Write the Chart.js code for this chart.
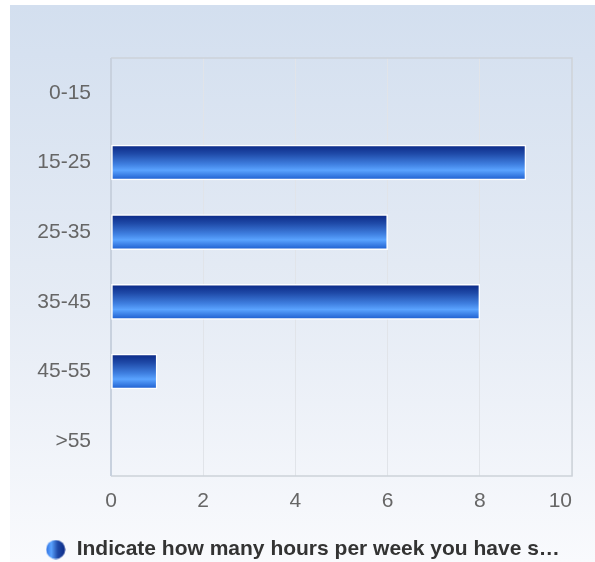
<!DOCTYPE html>
<html>
<head>
<meta charset="utf-8">
<script src="https://cdn.jsdelivr.net/npm/chart.js@4"></script>
<style>
  html, body { margin: 0; padding: 0; background: #ffffff; }
  #wrap { position: relative; width: 595px; height: 562px; }
  #bg {
    position: absolute; left: 10px; top: 5px; right: 0; bottom: 0;
    background: linear-gradient(to bottom, #d3dfef 0%, #e6ecf5 55%, #f9fafd 100%);
  }
  #hoursChart { position: absolute; left: 0; top: 0; }
</style>
</head>
<body>
<div id="wrap">
  <div id="bg"></div>
  <canvas id="hoursChart" width="595" height="562"></canvas>
</div>
<script>
const categories = ['0-15', '15-25', '25-35', '35-45', '45-55', '>55'];
const hours = [0, 9, 6, 8, 1, 0];
const seriesLabel = 'Indicate how many hours per week you have s\u2026';

const FONT = '"Liberation Sans", Arial, sans-serif';
const TICK_FONT = { family: FONT, size: 21 };
const TICK_COLOR = '#666666';
const X_PAD = 13;
const BAR_PX = 35;

// glossy blue fill, dark on top, light band near the bottom
function barFill(ctx) {
  const chart = ctx.chart;
  const yScale = chart.scales.y;
  if (ctx.type === 'data' && !ctx.raw) return 'rgba(0,0,0,0)';
  if (!chart.chartArea || !yScale || ctx.type !== 'data') return '#2a5fd0';
  const yc = yScale.getPixelForValue(ctx.dataIndex);
  if (!Number.isFinite(yc)) return '#2a5fd0';
  const g = chart.ctx.createLinearGradient(0, yc - BAR_PX / 2, 0, yc + BAR_PX / 2);
  g.addColorStop(0, '#0a2784');
  g.addColorStop(0.25, '#1f4aa8');
  g.addColorStop(0.55, '#3f7fe0');
  g.addColorStop(0.72, '#5aa3ff');
  g.addColorStop(1, '#1b5bcc');
  return g;
}

// round legend marker with the same gradient turned sideways
function legendDot() {
  const c = document.createElement('canvas');
  c.width = 20; c.height = 20;
  const x = c.getContext('2d');
  const g = x.createLinearGradient(0, 0, 20, 0);
  g.addColorStop(0, '#2f6fe0');
  g.addColorStop(0.28, '#5aa3ff');
  g.addColorStop(0.6, '#1f4aa8');
  g.addColorStop(1, '#0a2784');
  x.fillStyle = g;
  x.beginPath();
  x.arc(10, 10, 9.5, 0, Math.PI * 2);
  x.fill();
  return c;
}

const frame = {
  id: 'frame',
  beforeDatasetsDraw(chart) {
    const { ctx, chartArea: a } = chart;
    ctx.save();
    ctx.lineWidth = 1.5;
    ctx.strokeStyle = '#cdd2d9';
    ctx.beginPath();
    ctx.moveTo(a.left, a.top);
    ctx.lineTo(a.right, a.top);
    ctx.lineTo(a.right, a.bottom);
    ctx.lineTo(a.left, a.bottom);
    ctx.stroke();
    ctx.strokeStyle = '#c8d1de';
    ctx.lineWidth = 2;
    ctx.beginPath();
    ctx.moveTo(a.left, a.top);
    ctx.lineTo(a.left, a.bottom);
    ctx.stroke();
    ctx.restore();
  },
  // last x label sits flush with the right edge of the plot
  afterDraw(chart) {
    const s = chart.scales.x;
    const last = s.ticks[s.ticks.length - 1];
    const ctx = chart.ctx;
    ctx.save();
    ctx.font = `${TICK_FONT.size}px ${TICK_FONT.family}`;
    ctx.fillStyle = TICK_COLOR;
    ctx.textAlign = 'right';
    ctx.textBaseline = 'middle';
    ctx.fillText(String(last.value), s.getPixelForValue(last.value), s.top + X_PAD + TICK_FONT.size * 0.6);
    ctx.restore();
  }
};

new Chart(document.getElementById('hoursChart'), {
  type: 'bar',
  data: {
    labels: categories,
    datasets: [{
      label: seriesLabel,
      data: hours,
      backgroundColor: barFill,
      borderColor: '#ffffff',
      borderWidth: ctx => (ctx.raw ? 1.5 : 0),
      borderSkipped: false,
      barThickness: BAR_PX
    }]
  },
  options: {
    indexAxis: 'y',
    responsive: false,
    animation: false,
    layout: { padding: { left: 10, top: 58, right: 0, bottom: -8 } },
    scales: {
      x: {
        min: 0,
        max: 10,
        ticks: {
          stepSize: 2,
          color: TICK_COLOR,
          padding: X_PAD,
          font: TICK_FONT,
          callback: (v, i, ticks) => (i === ticks.length - 1 ? '' : v)
        },
        grid: { color: '#e1e4e9', drawTicks: false },
        border: { display: false },
        afterFit: s => { s.height = 57; s.paddingRight = 0; }
      },
      y: {
        ticks: { color: TICK_COLOR, padding: 20, font: TICK_FONT },
        grid: { display: false, drawTicks: false },
        border: { display: false },
        afterFit: s => { s.width = 101; }
      },
      // empty strip on the right of the plot
      yPad: {
        type: 'linear',
        position: 'right',
        ticks: { display: false },
        grid: { display: false, drawTicks: false },
        border: { display: false },
        afterFit: s => { s.width = 23; }
      }
    },
    plugins: {
      legend: {
        position: 'bottom',
        labels: {
          usePointStyle: true,
          pointStyle: legendDot(),
          color: '#333333',
          padding: 6,
          font: { family: FONT, size: 21, weight: 'bold' }
        }
      },
      tooltip: { enabled: false }
    }
  },
  plugins: [frame]
});
</script>
</body>
</html>
